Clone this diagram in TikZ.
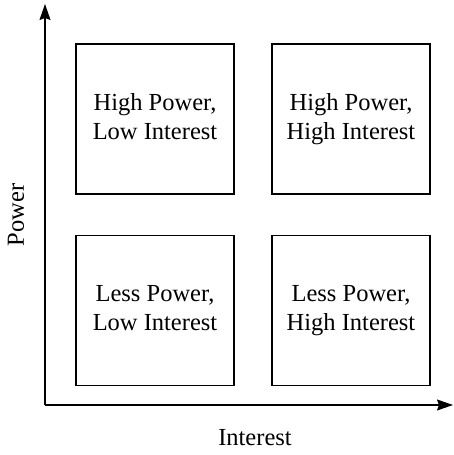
\documentclass[tikz,border=0pt]{standalone}
\usepackage{fontspec}
\setmainfont{Liberation Serif}
\usepackage{tikz}
\usetikzlibrary{arrows.meta}

\begin{document}
\begin{tikzpicture}[
x=1pt, y=1pt,
quad box/.style = {draw, line width=1.1pt, minimum width=158pt, minimum height=150pt,
  align=center, font=\fontsize{24.5}{29}\selectfont},
axis label/.style = {font=\fontsize{24.5}{29}\selectfont},
axis/.style = {line width=1.3pt, -{Stealth[length=16pt, width=11pt, inset=2pt]}}
]
\useasboundingbox (0,0) rectangle (454,455);

\coordinate (origin) at (45,50);
\coordinate (ytip) at (45,451);
\coordinate (xtip) at (453,50);

\draw[axis] (origin) -- (ytip);
\draw[axis] (origin) -- (xtip);

\node (hl) at (155,336) [quad box] {\strut High Power,\\\strut Low Interest};
\node (hh) at (351,336) [quad box] {\strut High Power,\\\strut High Interest};
\node (ll) at (155,144.5) [quad box] {\strut Less Power,\\\strut Low Interest};
\node (lh) at (351,144.5) [quad box] {\strut Less Power,\\\strut High Interest};

\node (power) at (16,240) [axis label, rotate=90] {Power};
\node (interest) at (255,17) [axis label] {Interest};
\end{tikzpicture}
\end{document}
